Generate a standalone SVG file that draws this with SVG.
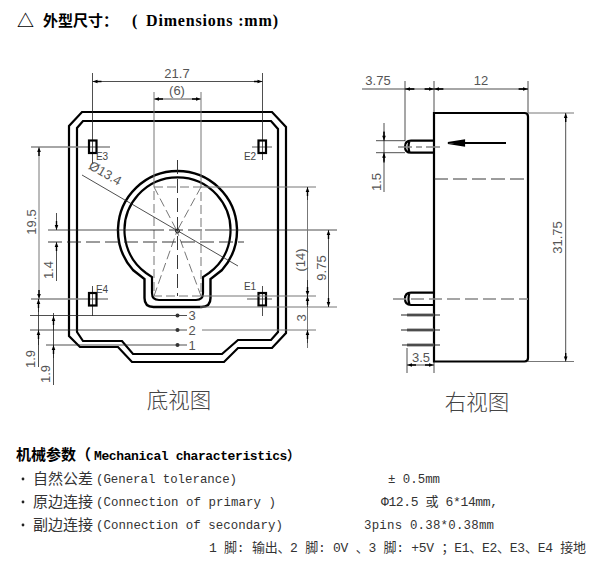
<svg xmlns="http://www.w3.org/2000/svg" width="613" height="567" viewBox="0 0 613 567">
<style>
text{font-family:"Liberation Sans","Noto Sans CJK SC",sans-serif}
.ol{fill:none;stroke:#000;stroke-width:2.200}
.ol3{fill:none;stroke:#000;stroke-width:2.400}
.t{fill:none;stroke:#222;stroke-width:.8}
.g{fill:none;stroke:#777;stroke-width:1}
.gd{fill:none;stroke:#888;stroke-width:1.4}
.dash{fill:none;stroke:#777;stroke-width:1;stroke-dasharray:9 4}
.dk{fill:none;stroke:#222;stroke-width:.9;stroke-dasharray:14 5}
.gl{fill:none;stroke:#888;stroke-width:1.500;stroke-dasharray:13 5}
.dim{font-size:13px;fill:#555;text-anchor:middle}
.pad{font-size:10px;fill:#444;text-anchor:middle}
.view{font-size:21.500px;fill:#444;text-anchor:middle;font-family:"Noto Sans CJK SC",sans-serif;font-weight:300}
.m{font-family:"Liberation Mono","Noto Sans CJK SC",monospace;font-size:12.400px;fill:#333}
.c{font-family:"Noto Sans CJK SC",sans-serif;font-size:15px;fill:#333}
.a{marker-start:url(#ah);marker-end:url(#ah)}
.e{marker-end:url(#ah)}
.s{marker-start:url(#ah)}
</style>
<defs>
<marker id="ah" markerUnits="userSpaceOnUse" markerWidth="10" markerHeight="6" refX="9" refY="3" orient="auto-start-reverse">
<path d="M0 2.300H4V1.200L9 3L4 4.800V3.700H0Z" fill="#000"/>
</marker>
</defs>

<text x="17" y="27" style="font-family:'Noto Sans CJK SC',sans-serif;font-size:17px;font-weight:700" fill="#000">△</text>
<text x="43" y="26" style="font-family:'Noto Sans CJK SC',sans-serif;font-size:15px;font-weight:700" fill="#000">外型尺寸：</text>
<text x="132" y="26" style="font-family:'Liberation Serif',serif;font-size:16px;font-weight:700" fill="#000">(</text>
<text x="146" y="26" textLength="132" style="font-family:'Liberation Serif',serif;font-size:16px;font-weight:700" fill="#000">Dimensions :mm)</text>

<g id="bottom-view">
<path class="ol" d="M69 336V126L82 112H272L286 127V333L272 348H238L224 362H132L118 347H80Z"/>
<path class="ol" d="M77 332V128L83 121H271L278 129V332L271 340H238L222 354H133L122 341H83Z"/>
<path class="ol3" d="M133 270A59.500 59.500 0 1 1 222 270L210.500 279V298Q210.500 307 201.500 307H153.500Q144.500 307 144.500 298V279Z"/>
<path class="ol" d="M146 273A53 53 0 1 1 209 273L203 277V293Q203 300 196 300H159Q152 300 152 293V277Z"/>
<rect x="154" y="187" width="47" height="109" class="dash"/>
<path class="dash" d="M154 187L177 231L201 187M154 296L177 231L201 296"/>
<path class="dk" d="M177.500 160V296"/>
<circle cx="177.500" cy="231" r="2" fill="none" stroke="#222"/>
<path class="t" d="M48 230H150M205 230H337"/>
<path class="dk" d="M150 230H205M48 242H244"/>
<path class="t" d="M82 175L238 266"/>
<text class="dim" transform="translate(103 177) rotate(30)">Ø13.4</text>
</g>

<g id="pad-E3"><path class="gd" d="M31 147H110"/><path class="t" d="M92.500 130V163"/><rect x="89" y="140.500" width="7.500" height="12.500" class="ol"/><text class="pad" x="102" y="160">E3</text></g>
<g id="pad-E2"><path class="gd" d="M252 147H272"/><path class="t" d="M262.500 130V160"/><rect x="258.500" y="140.500" width="7.500" height="12.500" class="ol"/><text class="pad" x="250" y="160">E2</text></g>
<g id="pad-E4"><path class="gd" d="M31 299H108"/><path class="t" d="M92.500 286V316"/><rect x="89" y="293" width="7.500" height="12.500" class="ol"/><text class="pad" x="102" y="293">E4</text></g>
<g id="pad-E1"><path class="gd" d="M247 299H272"/><path class="t" d="M262.500 286V316"/><rect x="258.500" y="293" width="7.500" height="12.500" class="ol"/><text class="pad" x="250" y="290">E1</text></g>

<g id="pins-bottom">
<path class="t" d="M30 315.500H187M30 330H187M46 345H187"/>
<path class="g" d="M202 330H316M201 296H316M200 307H337M201 187H316"/>
<g fill="#333"><circle cx="177.500" cy="315.500" r="2"/><circle cx="177.500" cy="330" r="2"/><circle cx="177.500" cy="345" r="2"/></g>
<text class="dim" x="192" y="320">3</text><text class="dim" x="192" y="334.500">2</text><text class="dim" x="192" y="349.500">1</text>
</g>

<g id="connectors">
<path class="t a" d="M92.500 81.500H262.500"/>
<path class="t" d="M92.500 73V130M262.500 73V130"/>
<path class="t a" d="M154 99H201"/>
<path class="g" d="M154 92V187M201 92V187"/>
<path class="g a" d="M39 147V299"/>
<path class="t e" d="M56.500 213V230"/>
<path class="t s" d="M56.500 242V281"/>
<path class="t" d="M38.500 299V367"/>
<path class="t s" d="M38.500 299V312"/>
<path class="t s" d="M38.500 330V345"/>
<path class="t" d="M53.500 313V385"/>
<path class="t s" d="M53.500 316V330"/>
<path class="t s" d="M53.500 345V358"/>
<path class="g" d="M307.500 187V348"/>
<path class="t s" d="M307.500 187V200"/>
<path class="t e" d="M307.500 280V296"/>
<path class="t s" d="M307.500 296V307"/>
<path class="t s" d="M307.500 330V343"/>
<path class="t a" d="M328.500 230V307"/>

<path class="gd" d="M362 89H528"/>
<path class="t" d="M405 81V141M434 81V113M528 81V113"/>
<path class="t s" d="M405 89H415"/><path class="t s" d="M434 89H424"/><path class="t s" d="M434 89H444"/><path class="t s" d="M528 89H518"/>
<path class="t" d="M376 140.700H405M376 152.700H405M384 123V192"/>
<path class="t s" d="M384 140.700V131"/><path class="t s" d="M384 152.700V163"/>
<path class="g" d="M528 113H574M528 361.500H574"/>
<path class="t a" d="M565.700 113V361.500"/>
<path class="t" d="M407 348V373M434 362V373"/>
<path class="t a" d="M407 365H434"/>
</g>

<g id="right-view">
<path class="ol" d="M434 113H524.500Q528 113 528 116.500V358Q528 361.500 524.500 361.500H434Z"/>
<path class="ol" d="M434 140.700H411Q405 140.700 405 146.700Q405 152.700 411 152.700H434M409.500 141Q407.500 147 409.500 152.500"/>
<path class="ol" d="M434 292.700H411Q405 292.700 405 298.800Q405 305 411 305H434M409.500 293Q407.500 299 409.500 304.500"/>
<path class="gd" d="M398 147H412M416 147H422M426 147H440"/>
<path class="dk" d="M434 179H528"/>
<path class="gl" d="M393 299H528"/>
<path d="M506 143H464V140.500L448 143L464 145.500V143" fill="#000" stroke="#000" stroke-width="2.200"/>
<path d="M407 315H434M407 330H434M407 345H434" stroke="#777" stroke-width="3" fill="none"/>
<path d="M401 315H440M401 330H440M402 345H440" stroke="#222" stroke-width="1" fill="none"/>
</g>

<g id="dim-labels">
<text class="dim" x="177" y="78">21.7</text>
<text class="dim" x="177" y="95">(6)</text>
<text class="dim" transform="translate(36 222) rotate(-90)">19.5</text>
<text class="dim" transform="translate(53 270) rotate(-90)">1.4</text>
<text class="dim" transform="translate(35 359) rotate(-90)">1.9</text>
<text class="dim" transform="translate(50 374) rotate(-90)">1.9</text>
<text class="dim" transform="translate(305 260) rotate(-90)">(14)</text>
<text class="dim" transform="translate(306 318) rotate(-90)">3</text>
<text class="dim" transform="translate(326 268) rotate(-90)">9.75</text>
<text class="dim" x="378" y="85">3.75</text>
<text class="dim" x="481" y="85">12</text>
<text class="dim" transform="translate(381 182) rotate(-90)">1.5</text>
<text class="dim" transform="translate(562 237.500) rotate(-90)">31.75</text>
<text class="dim" x="421" y="362">3.5</text>
</g>

<text class="view" x="179" y="408">底视图</text>
<text class="view" x="477" y="410">右视图</text>

<text x="16" y="460" style="font-family:'Noto Sans CJK SC',sans-serif;font-size:15px;font-weight:700" fill="#000">机械参数（</text>
<text x="94" y="460" textLength="206" style="font-family:'Liberation Mono','Noto Sans CJK SC',monospace;font-size:13px;font-weight:700" fill="#000">Mechanical characteristics）</text>
<g fill="#222"><circle cx="23" cy="479" r="1.400"/><circle cx="23" cy="502" r="1.400"/><circle cx="23" cy="525" r="1.400"/></g>
<text class="c" x="33" y="484" textLength="60">自然公差</text><text class="m" x="96" y="483" textLength="141">(General tolerance)</text>
<text class="c" x="33" y="507" textLength="60">原边连接</text><text class="m" x="96" y="506" textLength="180">(Connection of primary )</text>
<text class="c" x="33" y="530" textLength="60">副边连接</text><text class="m" x="96" y="529" textLength="187">(Connection of secondary)</text>
<text class="m" x="388" y="483" textLength="52">± 0.5mm</text>
<text class="m" x="381" y="506" textLength="117" style="font-size:13px">Φ12.5 或 6*14mm,</text>
<text class="m" x="364" y="529" textLength="130">3pins 0.38*0.38mm</text>
<text class="m" x="209" y="552" textLength="377" style="font-size:13px">1 脚: 输出、2 脚: 0V 、3 脚: +5V ；E1、E2、E3、E4 接地</text>
</svg>
